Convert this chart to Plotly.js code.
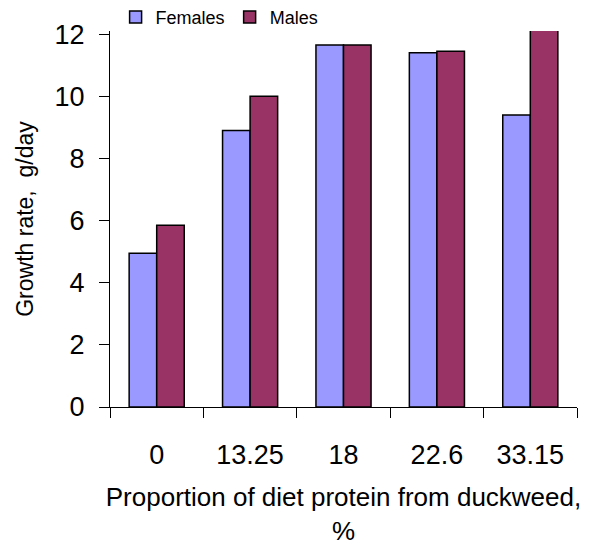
<!DOCTYPE html>
<html>
<head>
<meta charset="utf-8">
<script src="https://cdn.plot.ly/plotly-3.0.1.min.js"></script>
<style>
  html, body { margin: 0; padding: 0; background: #ffffff; }
  #chart { width: 595px; height: 546px; }
</style>
</head>
<body>
<div id="chart"></div>
<script>
// Duckweed share of dietary protein (%) and daily growth rate by sex
const categories = ["0", "13.25", "18", "22.6", "33.15"];
const females = [4.95, 8.9, 11.65, 11.4, 9.4];
const males = [5.85, 10.0, 11.65, 11.45, 12.3];

const FONT = "Liberation Sans, Arial, sans-serif";

const barLine = { color: "#000000", width: 1.5 };

const traces = [
  {
    type: "bar",
    name: "Females",
    x: categories,
    y: females,
    marker: { color: "#9999FF", line: barLine },
    hoverinfo: "x+y+name"
  },
  {
    type: "bar",
    name: "Males",
    x: categories,
    y: males,
    marker: { color: "#993366", line: barLine },
    hoverinfo: "x+y+name"
  }
];

const layout = {
  width: 595,
  height: 546,
  margin: { l: 110, r: 18, t: 31, b: 139, autoexpand: false },
  paper_bgcolor: "#ffffff",
  plot_bgcolor: "#ffffff",
  font: { family: FONT, size: 26, color: "#000000" },
  barmode: "group",
  bargap: 0.41,
  bargroupgap: 0,
  showlegend: true,
  legend: {
    orientation: "h",
    x: 0.012,
    xanchor: "left",
    y: 0.987,
    yanchor: "bottom",
    font: { family: FONT, size: 18, color: "#000000" },
    bgcolor: "rgba(0,0,0,0)",
    itemwidth: 30,
    traceorder: "normal"
  },
  xaxis: {
    type: "category",
    showline: true,
    linecolor: "#000000",
    linewidth: 1,
    showgrid: false,
    zeroline: false,
    ticks: "outside",
    tickson: "boundaries",
    ticklen: 10,
    tickcolor: "#000000",
    tickwidth: 1,
    ticklabelstandoff: 24,
    tickfont: { family: FONT, size: 27, color: "#000000" },
    title: {
      text: "Proportion of diet protein from duckweed,<br>%",
      font: { family: FONT, size: 26, color: "#000000" },
      standoff: 22
    }
  },
  yaxis: {
    range: [0, 12.1],
    tickvals: [0, 2, 4, 6, 8, 10, 12],
    showline: true,
    linecolor: "#000000",
    linewidth: 1,
    showgrid: false,
    zeroline: false,
    ticks: "outside",
    ticklen: 10,
    tickcolor: "#000000",
    tickwidth: 1,
    ticklabelstandoff: 9,
    tickfont: { family: FONT, size: 27, color: "#000000" },
    title: {
      text: "Growth rate,  g/day",
      font: { family: FONT, size: 23, color: "#000000" },
      standoff: 14
    }
  }
};

Plotly.newPlot("chart", traces, layout, { displayModeBar: false, staticPlot: true });
</script>
</body>
</html>
